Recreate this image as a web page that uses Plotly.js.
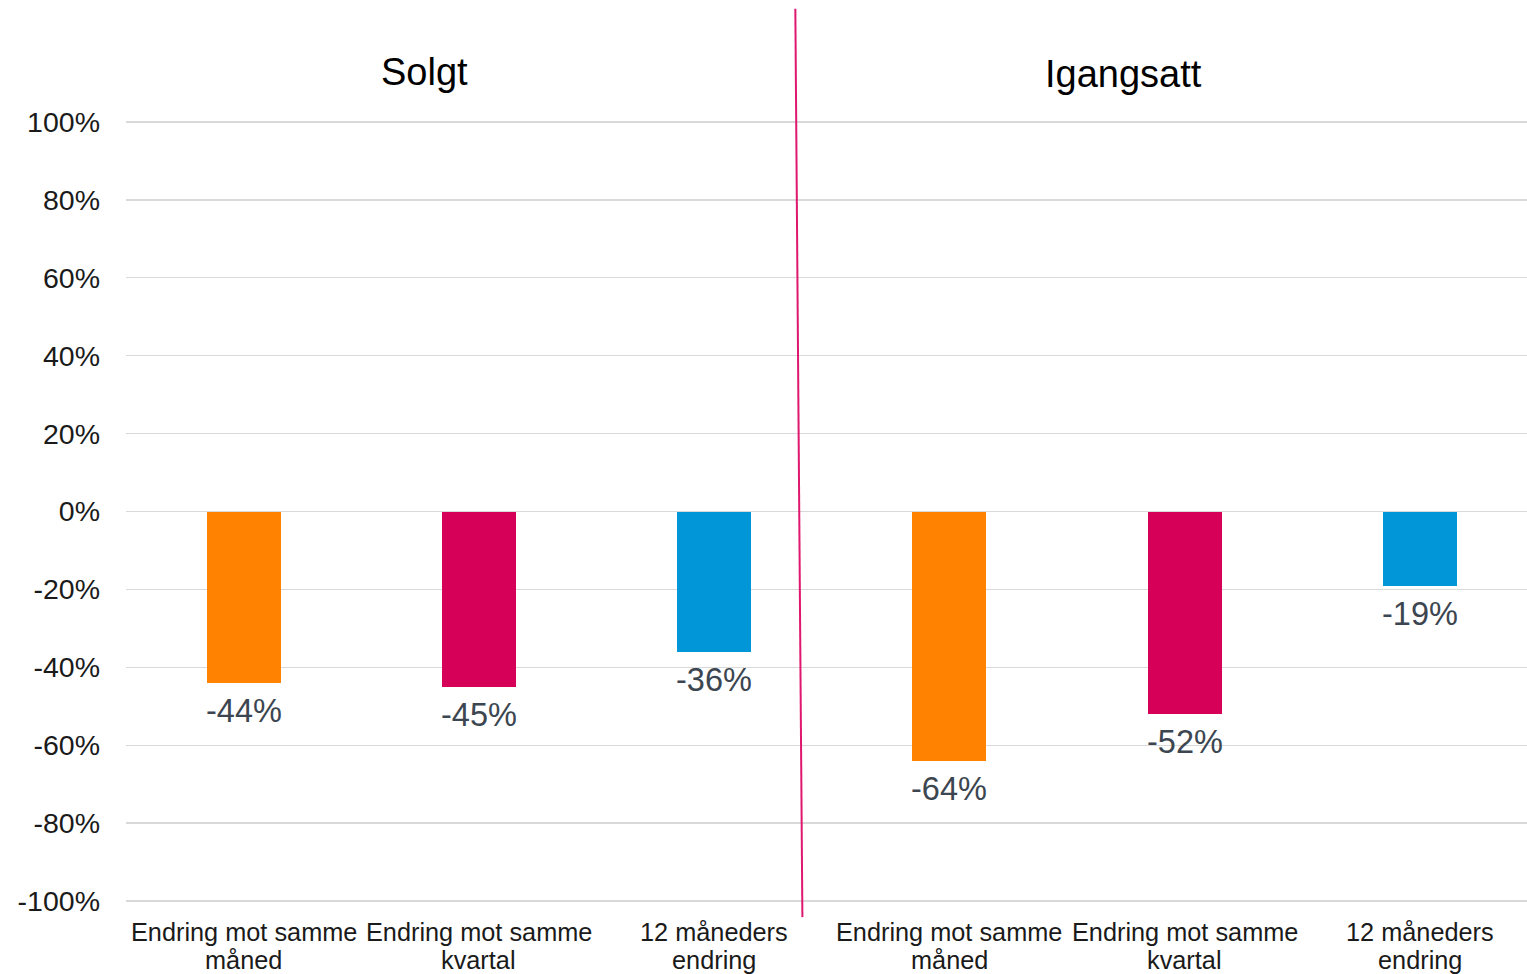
<!DOCTYPE html>
<html>
<head>
<meta charset="utf-8">
<script src="https://cdn.plot.ly/plotly-3.0.1.min.js"></script>
<style>
  html, body { margin: 0; padding: 0; background: #ffffff; }
  #chart { width: 1527px; height: 974px; }
</style>
</head>
<body>
<div id="chart"></div>
<script>
// Change in housing units, sold vs. started
const groups = ["Solgt", "Igangsatt"];
const categories = [
  "Endring mot samme<br>måned",
  "Endring mot samme<br>kvartal",
  "12 måneders<br>endring",
  "Endring mot samme<br>måned",
  "Endring mot samme<br>kvartal",
  "12 måneders<br>endring"
];
const changePct = [-44, -45, -36, -64, -52, -19];
const barColors = ["#FF8200", "#D70058", "#0096D8", "#FF8200", "#D70058", "#0096D8"];
const yTicks = [100, 80, 60, 40, 20, 0, -20, -40, -60, -80, -100];

const positions = categories.map((_, i) => i);
const FONT = "Liberation Sans, Arial, sans-serif";

const trace = {
  type: "bar",
  x: positions,
  y: changePct,
  width: 0.314,
  marker: { color: barColors, line: { width: 0 } },
  hoverinfo: "skip"
};

// Value labels under each bar
const valueLabels = changePct.map((v, i) => ({
  x: positions[i],
  y: v,
  xref: "x",
  yref: "y",
  text: v + "%",
  showarrow: false,
  yanchor: "top",
  yshift: -8,
  font: { family: FONT, size: 32.5, color: "#3C4650" }
}));

// Category labels below the axis, two tight lines each
const categoryLabels = [];
categories.forEach((c, i) => {
  c.split("<br>").forEach((line, k) => {
    categoryLabels.push({
      x: positions[i],
      y: 0,
      xref: "x",
      yref: "paper",
      yanchor: "middle",
      yshift: -27 - k * 28,
      text: line,
      showarrow: false,
      font: { family: FONT, size: 25.3, color: "#1A1A1A" }
    });
  });
});

// Group headings
const groupTitles = [
  { x: 0.769, yshift: 46, text: groups[0] },
  { x: 3.739, yshift: 44, text: groups[1] }
].map(t => ({
  x: t.x,
  y: 1.0,
  xref: "x",
  yref: "paper",
  yanchor: "middle",
  yshift: t.yshift,
  text: t.text,
  showarrow: false,
  font: { family: FONT, size: 38, color: "#000000" }
}));

const layout = {
  width: 1527,
  height: 974,
  margin: { l: 126, r: 0, t: 118.1, b: 69.1 },
  paper_bgcolor: "#ffffff",
  plot_bgcolor: "#ffffff",
  showlegend: false,
  bargap: 0,
  font: { family: FONT, color: "#000000" },
  xaxis: {
    range: [-0.5, 5.455],
    tickmode: "array",
    tickvals: positions,
    ticktext: positions.map(() => ""),
    showgrid: false,
    zeroline: false,
    showline: false,
    ticks: "",
    fixedrange: true
  },
  yaxis: {
    range: [-101, 101],
    tickmode: "array",
    tickvals: yTicks,
    ticktext: yTicks.map(v => v + "%"),
    showgrid: true,
    gridcolor: "#D9D9D9",
    gridwidth: 1.5,
    zeroline: true,
    zerolinecolor: "#D9D9D9",
    zerolinewidth: 1.5,
    showline: false,
    ticks: "",
    ticklabelstandoff: 25,
    tickfont: { family: FONT, size: 28.5, color: "#1A1A1A" },
    fixedrange: true
  },
  shapes: [
    {
      type: "line",
      xref: "x",
      yref: "paper",
      x0: 2.345, y0: 1.1387,
      x1: 2.375, y1: -0.0154,
      line: { color: "#E0176E", width: 2 }
    }
  ],
  annotations: valueLabels.concat(categoryLabels, groupTitles)
};

Plotly.newPlot("chart", [trace], layout, { displayModeBar: false, staticPlot: true });
</script>
</body>
</html>
